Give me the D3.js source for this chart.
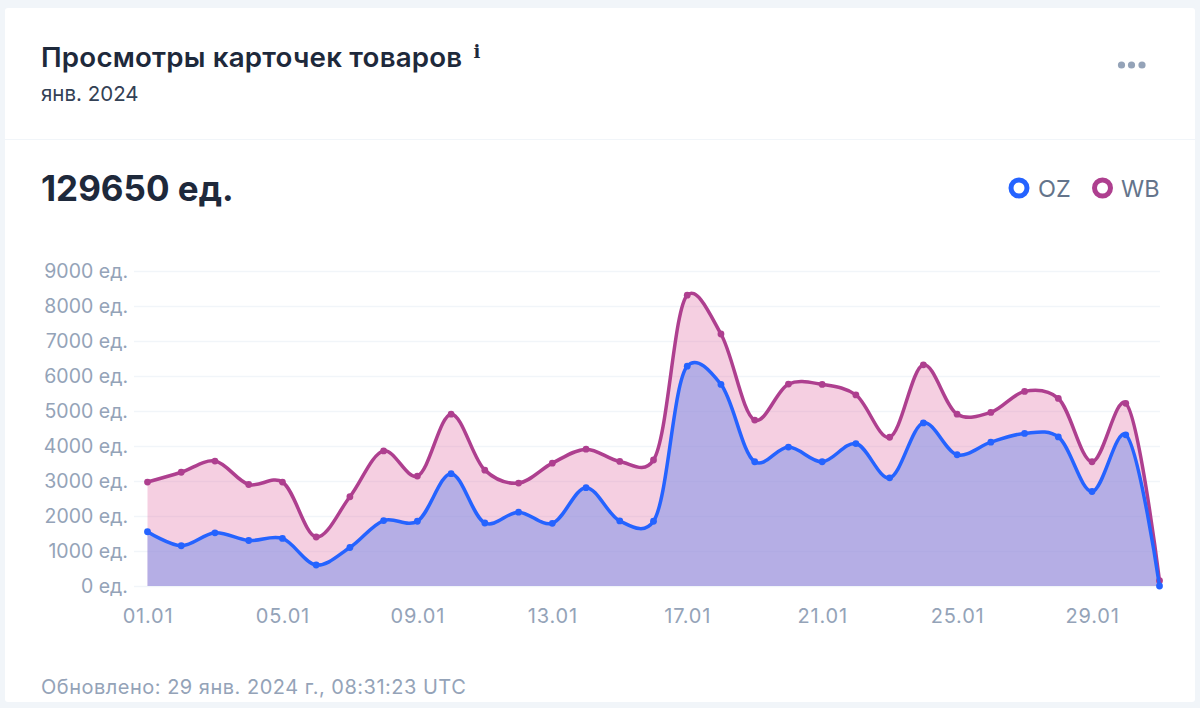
<!DOCTYPE html>
<html>
<head>
<meta charset="utf-8">
<script src="https://cdn.jsdelivr.net/npm/d3@7"></script>
<style>
html, body { margin: 0; padding: 0; background: #f1f5f9; overflow: hidden; }
svg { display: block; font-family: Inter, "Noto Sans", sans-serif; }
</style>
</head>
<body>
<svg id="chart" width="1200" height="708"></svg>
<script>
var days = ["01.01","02.01","03.01","04.01","05.01","06.01","07.01","08.01","09.01","10.01","11.01","12.01","13.01","14.01","15.01","16.01","17.01","18.01","19.01","20.01","21.01","22.01","23.01","24.01","25.01","26.01","27.01","28.01","29.01","30.01","31.01"];
var ozValues = [1550,1150,1520,1300,1360,600,1100,1870,1850,3210,1800,2110,1790,2810,1860,1850,6280,5760,3550,3970,3550,4070,3090,4660,3750,4110,4360,4260,2700,4320,0];
var wbValues = [2970,3250,3570,2900,2970,1400,2550,3860,3140,4910,3310,2940,3510,3910,3560,3600,8310,7200,4740,5770,5760,5460,4250,6320,4910,4960,5560,5360,3550,5220,150];
var yTicks = [0,1000,2000,3000,4000,5000,6000,7000,8000,9000];
var xTicks = ["01.01","05.01","09.01","13.01","17.01","21.01","25.01","29.01"];

var svg = d3.select("#chart");

// card
svg.append("rect").attr("x", 5).attr("y", 8).attr("width", 1190).attr("height", 694)
    .attr("rx", 3).attr("fill", "#fff");
svg.append("line").attr("x1", 5).attr("x2", 1195).attr("y1", 139.5).attr("y2", 139.5)
    .attr("stroke", "#f1f5f9").attr("stroke-width", 1);

// header
svg.append("text").attr("x", 41).attr("y", 67).attr("font-size", 27.7).attr("font-weight", 600)
    .attr("letter-spacing", 0.2).attr("fill", "#1e293b").text("Просмотры карточек товаров");
svg.append("text").attr("x", 473.5).attr("y", 58).attr("font-size", 18).attr("font-weight", 800)
    .attr("font-family", "DejaVu Serif").attr("fill", "#1e293b").text("i");
svg.append("text").attr("x", 41).attr("y", 101).attr("font-size", 20.5)
    .attr("fill", "#334155").text("янв. 2024");
svg.selectAll("circle.dot").data([1121.5, 1131.5, 1142]).enter().append("circle")
    .attr("cx", d => d).attr("cy", 65).attr("r", 3.6).attr("fill", "#94a3b8");
svg.append("text").attr("x", 41).attr("y", 201).attr("font-size", 35).attr("font-weight", 700)
    .attr("fill", "#1e293b").text("129650 ед.");

// legend
var legend = [{name: "OZ", color: "#2563ff", cx: 1019, tx: 1038}, {name: "WB", color: "#ae3f8f", cx: 1102.5, tx: 1121}];
legend.forEach(function(l) {
    svg.append("circle").attr("cx", l.cx).attr("cy", 188).attr("r", 8)
        .attr("fill", "#fff").attr("stroke", l.color).attr("stroke-width", 5);
    svg.append("text").attr("x", l.tx).attr("y", 197).attr("font-size", 23.5)
        .attr("fill", "#64748b").text(l.name);
});

var x = d3.scalePoint().domain(days).range([147.5, 1159.5]);
var y = d3.scaleLinear().domain([0, 9000]).range([586, 271]);

// axes
var yAxis = svg.append("g").attr("transform", "translate(134,0)")
    .call(d3.axisLeft(y).tickValues(yTicks).tickSize(-1026).tickPadding(6).tickFormat(d => d + " ед."));
yAxis.select(".domain").remove();
yAxis.selectAll("line").attr("stroke", "#f1f5f9").attr("stroke-width", 1.5);
yAxis.selectAll("text").attr("font-size", 19.5).attr("font-family", "Inter, sans-serif").attr("fill", "#94a3b8");

var xAxis = svg.append("g").attr("transform", "translate(0,586)")
    .call(d3.axisBottom(x).tickValues(xTicks).tickSize(0).tickPadding(23));
xAxis.select(".domain").remove();
xAxis.selectAll("text").attr("font-size", 20).attr("letter-spacing", 0.8)
    .attr("font-family", "Inter, sans-serif").attr("fill", "#94a3b8");

var curve = d3.curveCatmullRom.alpha(0.25);
var area = d3.area().x((d, i) => x(days[i])).y0(y(0)).y1(d => y(d)).curve(curve);
var line = d3.line().x((d, i) => x(days[i])).y(d => y(d)).curve(curve);

var series = [{values: wbValues, color: "#ae3f8f", fill: "#e276a9", op: 0.35},
              {values: ozValues, color: "#2563ff", fill: "#758de9", op: 0.5}];

series.forEach(function(s) {
    svg.append("path").attr("d", area(s.values)).attr("fill", s.fill).attr("fill-opacity", s.op);
});
series.forEach(function(s) {
    svg.append("path").attr("d", line(s.values)).attr("fill", "none")
        .attr("stroke", s.color).attr("stroke-width", 3.5);
    svg.selectAll(null).data(s.values).enter().append("circle")
        .attr("cx", (d, i) => x(days[i])).attr("cy", d => y(d)).attr("r", 3.4).attr("fill", s.color);
});

// footer
svg.append("text").attr("x", 41).attr("y", 694).attr("font-size", 20).attr("letter-spacing", 0.5)
    .attr("fill", "#94a3b8").text("Обновлено: 29 янв. 2024 г., 08:31:23 UTC");
</script>
</body>
</html>
